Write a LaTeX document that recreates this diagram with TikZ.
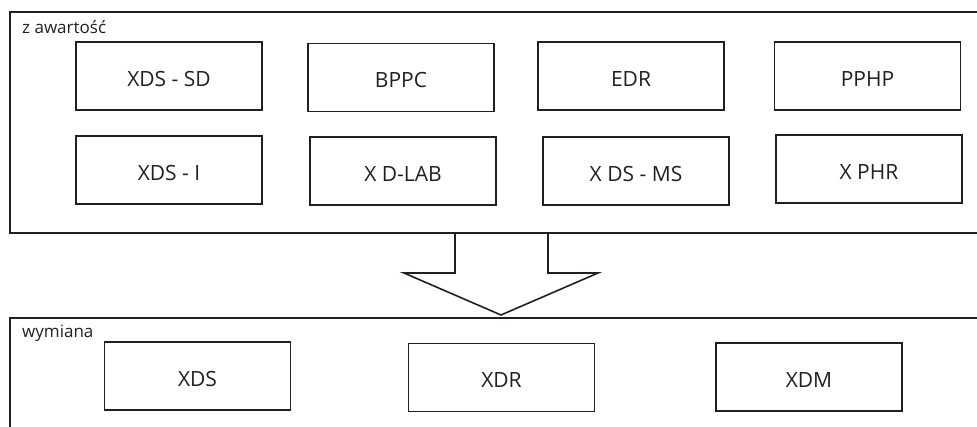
\documentclass[tikz,border=0pt]{standalone}
\usepackage{fontspec}
\setmainfont{Open Sans}
\definecolor{linegray}{HTML}{231F20}
\tikzset{
  modul/.style={draw=linegray, line width=1.6pt, minimum width=186pt, minimum height=68pt,
    inner sep=0pt, text height=20pt, text depth=0pt, text=linegray,
    font=\fontsize{21}{21}\selectfont},
  ramka/.style={draw=linegray, line width=1.6pt},
  podpis/.style={anchor=base west, inner sep=0pt, text=linegray, font=\fontsize{17}{17}\selectfont}
}
\begin{document}
\begin{tikzpicture}[x=1pt,y=-1pt]
  \useasboundingbox (0,0) rectangle (977,426);
  \clip (0,0) rectangle (977,426);
  % zawartosc
  \draw [ramka] (10,12) rectangle (990,233);
  \node [podpis] (zaw) at (22,33) {z awartość};
  \node [modul] (xdssd) at (169,76) {XDS - SD};
  \node [modul] (bppc) at (401,77.5) {BPPC};
  \node [modul] (edr) at (631,76) {EDR};
  \node [modul] (pphp) at (867.5,76) {PPHP};
  \node [modul] (xdsi) at (169,170) {XDS - I};
  \node [modul] (xdlab) at (403,171) {X D-LAB};
  \node [modul] (xdsms) at (636,171) {X DS - MS};
  \node [modul] (xphr) at (869,169) {X PHR};
  % strzalka
  \draw [ramka, line join=miter] (455,233) -- (455,273) -- (404,273) -- (501,315)
    -- (598,273) -- (548,273) -- (548,233);
  % wymiana
  \draw [ramka] (10,318) rectangle (990,440);
  \node [podpis] (wym) at (22,337) {wymiana};
  \node [modul] (xds) at (197.5,376) {XDS};
  \node [modul] (xdr) at (501.5,377.5) {XDR};
  \node [modul] (xdm) at (809,377) {XDM};
\end{tikzpicture}
\end{document}
